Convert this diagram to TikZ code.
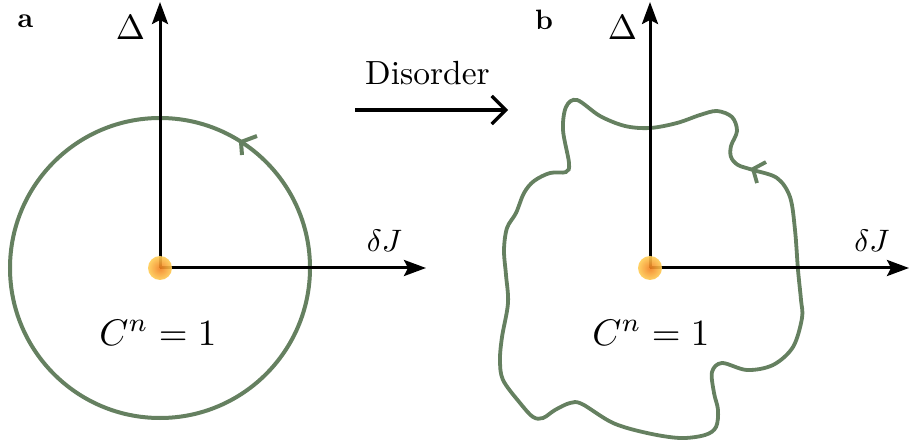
\documentclass[tikz,border=0pt]{standalone}
\usetikzlibrary{arrows.meta}
\definecolor{curvegreen}{RGB}{101,128,96}
\definecolor{dotin}{RGB}{242,128,30}
\definecolor{dotout}{RGB}{255,205,85}
\begin{document}
\begin{tikzpicture}[x=1pt,y=-1pt,
  axisline/.style={line width=3pt, -{Stealth[length=22pt,width=16pt,inset=4pt]}},
  loopline/.style={curvegreen, line width=4pt},
  ticktip/.style={curvegreen, line width=4pt, line cap=butt, line join=miter},
  lbl/.style={inner sep=0pt, anchor=base, font=\fontsize{10}{12}\selectfont},
  dotball/.style={inner color=dotin, outer color=dotout, opacity=0.9},
]
\useasboundingbox (0,0) rectangle (909,443);

% ---------- panel a ----------
\coordinate (oa) at (160,268);
\coordinate (ya) at (160,2);
\coordinate (xa) at (426,268);
\draw[loopline] (oa) circle[radius=150];
\coordinate (ta1) at (257,136);
\coordinate (ta0) at (241,142);
\coordinate (ta2) at (242,155);
\draw[ticktip] (ta1) -- (ta0) -- (ta2);
\draw[axisline] (oa) -- (ya);
\draw[axisline] (oa) -- (xa);
\shade[dotball] (oa) circle[radius=12];

\node[lbl, scale=2.8] (la) at (25.5,28) {\bfseries a};
\node[lbl, scale=3.5] (da) at (130.5,40) {$\Delta$};
\node[lbl, scale=3.1] (ja) at (384.5,252) {$\delta J$};
\node[lbl, scale=3.7] (ca) at (158,345) {$C^n = 1$};

% ---------- arrow ----------
\node[lbl, scale=3.35] (dis) at (427.5,85) {Disorder};
\coordinate (ds) at (355,110);
\coordinate (de) at (508,110);
\draw[line width=3.3pt, -{Straight Barb[length=14pt,width=28pt]}] (ds) -- (de);

% ---------- panel b ----------
\coordinate (ob) at (650,268);
\coordinate (yb) at (650,2);
\coordinate (xb) at (909,268);
\draw[loopline, line width=3.8pt] plot[smooth cycle, tension=0.55] coordinates {
 (577,100) (600,116) (625,126) (650,128) (677,123) (700,115) (717,111)
 (732,117) (737,131) (731,146) (731,157) (738,165) (753,170) (777,178)
 (790,197) (795,230) (798,270) (801,300) (802,318) (793,347) (773,365)
 (747,370) (722,363) (712,372) (714,393) (718,410) (716,427) (705,435)
 (680,438) (647,433) (613,423) (582,404) (570,403) (555,410) (543,418)
 (533,417) (520,403) (503,380) (500,360) (502,337) (508,303) (506,275)
 (504,250) (507,228) (516,213) (524,193) (534,181) (550,173) (566,172)
 (569,163) (563,130) (566,107)
};
\coordinate (tb1) at (766,162);
\coordinate (tb0) at (753,169);
\coordinate (tb2) at (757,183);
\draw[ticktip, line width=3.8pt] (tb1) -- (tb0) -- (tb2);
\draw[axisline] (ob) -- (yb);
\draw[axisline] (ob) -- (xb);
\shade[dotball] (ob) circle[radius=12];

\node[lbl, scale=2.8] (lb) at (544,30) {\bfseries b};
\node[lbl, scale=3.5] (db) at (622.5,40) {$\Delta$};
\node[lbl, scale=3.1] (jb) at (872,252) {$\delta J$};
\node[lbl, scale=3.7] (cb) at (651,345) {$C^n = 1$};
\end{tikzpicture}
\end{document}
